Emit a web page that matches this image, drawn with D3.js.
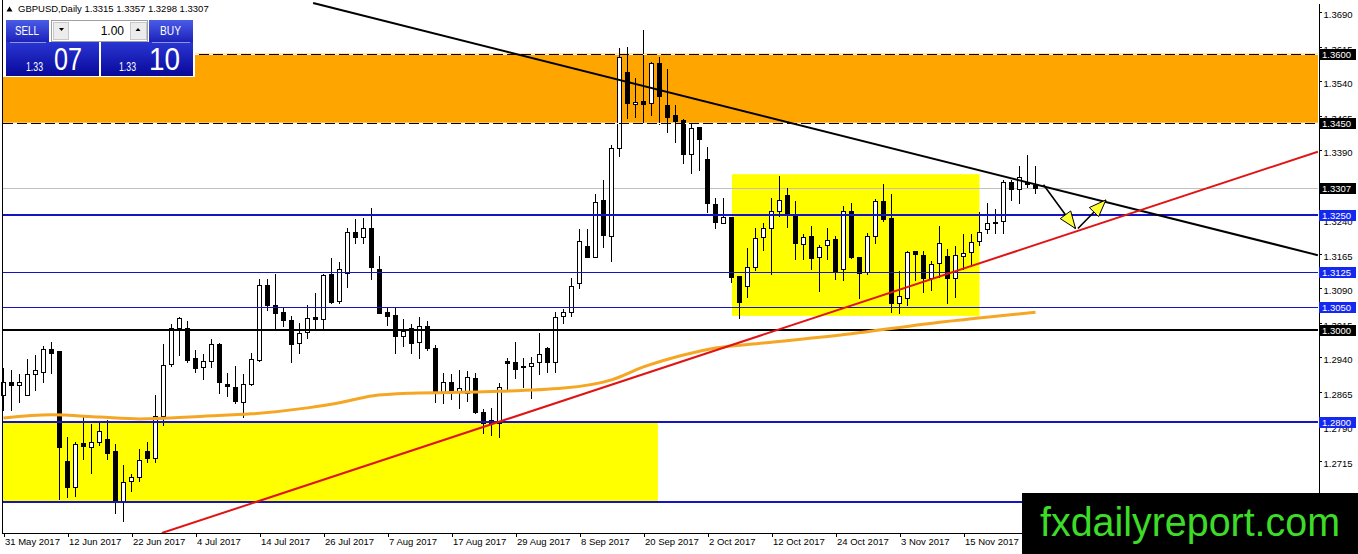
<!DOCTYPE html>
<html lang="en">
<head>
<meta charset="utf-8" />
<title>GBPUSD Daily</title>
<script src="https://cdn.jsdelivr.net/npm/d3@7"></script>
<style>
body { margin:0; background:#fff; }
svg { display:block; font-family:"Liberation Sans", Arial, sans-serif; }
</style>
</head>
<body>
<svg id="chart" width="1358" height="554"></svg>
<script>
// daily candles, 31 May 2017 .. 28 Nov 2017 (bar 0 = 31 May)
var opens = [1.2858,1.2886,1.2879,1.2858,1.2903,1.2909,1.2957,1.2954,1.2715,1.2657,
  1.2753,1.2746,1.2755,1.2762,1.2736,1.2625,1.2670,1.2679,1.2736,1.2720,
  1.2813,1.2925,1.3004,1.3003,1.2938,1.2918,1.2931,1.2969,1.2882,1.2876,
  1.2843,1.2881,1.2934,1.3097,1.3053,1.3038,1.3021,1.2970,1.2994,1.3028,
  1.3023,1.3121,1.3063,1.3124,1.3212,1.3201,1.3220,1.3133,1.3038,1.3032,
  1.2987,1.3003,1.2974,1.3007,1.2961,1.2865,1.2887,1.2865,1.2862,1.2896,
  1.2820,1.2798,1.2798,1.2933,1.2930,1.2921,1.2920,1.2929,1.2960,1.2929,
  1.3030,1.3039,1.3101,1.3183,1.3159,1.3282,1.3204,1.3394,1.3560,1.3490,
  1.3497,1.3492,1.3579,1.3488,1.3466,1.3456,1.3381,1.3440,1.3370,1.3273,
  1.3233,1.3244,1.3117,1.3095,1.3137,1.3201,1.3220,1.3259,1.3293,1.3248,
  1.3186,1.3204,1.3157,1.3184,1.3197,1.3131,1.3259,1.3157,1.3126,1.3204,
  1.3280,1.3242,1.3057,1.3068,1.3171,1.3162,1.3112,1.3144,1.3160,1.3112,
  1.3160,1.3168,1.3192,1.3218,1.3234,1.3236,1.3320,1.3306,1.3320,1.3315];
var highs = [1.2919,1.2914,1.2905,1.2938,1.2947,1.2967,1.2975,1.2956,1.2769,1.2757,
  1.2816,1.2797,1.2804,1.2805,1.2753,1.2707,1.2688,1.2743,1.2757,1.2860,
  1.2972,1.3014,1.3030,1.3021,1.2957,1.2949,1.2983,1.2973,1.2907,1.2923,
  1.2905,1.2952,1.3112,1.3112,1.3123,1.3050,1.3032,1.3017,1.3056,1.3083,
  1.3123,1.3157,1.3150,1.3224,1.3242,1.3246,1.3267,1.3162,1.3050,1.3050,
  1.3025,1.3014,1.3030,1.3021,1.2969,1.2907,1.2905,1.2914,1.2912,1.2909,
  1.2829,1.2833,1.2887,1.2941,1.2976,1.2941,1.2943,1.2994,1.2965,1.3041,
  1.3047,1.3114,1.3220,1.3220,1.3297,1.3327,1.3403,1.3615,1.3617,1.3549,
  1.3653,1.3585,1.3596,1.3568,1.3491,1.3460,1.3449,1.3443,1.3399,1.3289,
  1.3289,1.3246,1.3119,1.3180,1.3223,1.3235,1.3288,1.3336,1.3311,1.3283,
  1.3211,1.3228,1.3186,1.3224,1.3206,1.3271,1.3278,1.3160,1.3213,1.3286,
  1.3318,1.3298,1.3130,1.3173,1.3173,1.3173,1.3152,1.3228,1.3177,1.3184,
  1.3210,1.3210,1.3257,1.3278,1.3264,1.3327,1.3327,1.3358,1.3382,1.3357];
var lows = [1.2825,1.2825,1.2843,1.2857,1.2869,1.2886,1.2905,1.2633,1.2636,1.2639,
  1.2719,1.2688,1.2749,1.2718,1.2601,1.2585,1.2650,1.2672,1.2713,1.2713,
  1.2793,1.2920,1.2945,1.2930,1.2909,1.2892,1.2918,1.2863,1.2856,1.2841,
  1.2811,1.2879,1.2933,1.3043,1.3001,1.3007,1.2930,1.2950,1.2983,1.3003,
  1.2999,1.3059,1.3057,1.3093,1.3188,1.3189,1.3110,1.3036,1.3010,1.2950,
  1.2965,1.2949,1.2938,1.2956,1.2843,1.2840,1.2849,1.2829,1.2846,1.2818,
  1.2775,1.2771,1.2767,1.2869,1.2894,1.2876,1.2851,1.2903,1.2909,1.2907,
  1.3015,1.3030,1.3091,1.3157,1.3157,1.3180,1.3150,1.3378,1.3460,1.3463,
  1.3450,1.3467,1.3447,1.3429,1.3407,1.3362,1.3340,1.3347,1.3255,1.3220,
  1.3231,1.3104,1.3025,1.3072,1.3130,1.3173,1.3121,1.3247,1.3224,1.3153,
  1.3153,1.3131,1.3085,1.3153,1.3110,1.3107,1.3155,1.3068,1.3121,1.3189,
  1.3237,1.3039,1.3037,1.3054,1.3108,1.3083,1.3086,1.3115,1.3057,1.3072,
  1.3133,1.3139,1.3184,1.3210,1.3210,1.3210,1.3282,1.3276,1.3310,1.3298];
var closes = [1.2887,1.2879,1.2886,1.2903,1.2912,1.2957,1.2950,1.2744,1.2657,1.2751,
  1.2748,1.2755,1.2780,1.2733,1.2625,1.2668,1.2679,1.2717,1.2720,1.2813,
  1.2923,1.3004,1.3025,1.2934,1.2916,1.2931,1.2968,1.2887,1.2878,1.2845,
  1.2882,1.2936,1.3097,1.3054,1.3037,1.3020,1.2969,1.2992,1.3025,1.3023,
  1.3118,1.3061,1.3133,1.3212,1.3201,1.3220,1.3136,1.3037,1.3030,1.2987,
  1.2997,1.2972,1.3007,1.2961,1.2865,1.2887,1.2865,1.2873,1.2897,1.2820,
  1.2798,1.2804,1.2876,1.2928,1.2915,1.2918,1.2927,1.2947,1.2930,1.3028,
  1.3039,1.3096,1.3193,1.3159,1.3278,1.3206,1.3394,1.3592,1.3492,1.3495,
  1.3490,1.3579,1.3507,1.3463,1.3454,1.3383,1.3438,1.3414,1.3275,1.3235,
  1.3244,1.3115,1.3061,1.3137,1.3199,1.3220,1.3259,1.3283,1.3249,1.3188,
  1.3201,1.3155,1.3180,1.3195,1.3128,1.3259,1.3157,1.3124,1.3204,1.3280,
  1.3241,1.3057,1.3073,1.3168,1.3165,1.3112,1.3142,1.3188,1.3112,1.3162,
  1.3167,1.3190,1.3212,1.3231,1.3231,1.3320,1.3305,1.3333,1.3316,1.3307];

var dateBars = [0,8,16,24,32,40,48,56,64,72,80,88,96,104,112,120];
var dateLabels = ["31 May 2017","12 Jun 2017","22 Jun 2017","4 Jul 2017","14 Jul 2017",
  "26 Jul 2017","7 Aug 2017","17 Aug 2017","29 Aug 2017","8 Sep 2017","20 Sep 2017",
  "2 Oct 2017","12 Oct 2017","24 Oct 2017","3 Nov 2017","15 Nov 2017"];
var priceTicks = [1.3690,1.3615,1.3540,1.3465,1.3390,1.3315,1.3240,1.3165,
  1.3090,1.3015,1.2940,1.2865,1.2790,1.2715,1.2640];

// moving average, read at some bars
var maBars = [0,6,12,17,25,31,38,42,46,51,60,70,76,80,85,89,95,106,115,129];
var maValues = [1.2808,1.2815,1.2810,1.2806,1.2812,1.2817,1.2830,1.2841,1.2856,1.2862,
  1.2865,1.2873,1.2891,1.2919,1.2945,1.2960,1.2971,1.2991,1.3012,1.3038];

// drawn objects
var orangeZone = [1.3450, 1.3600];
var orangeZoneBars = [-0.06, 164.4];
var yellowZoneBars = [[-0.06, 81.8], [91.05, 122.0]];
var yellowZonePrices = [[1.2625, 1.2800], [1.3030, 1.3338]];
var dashedLevels = [1.3600, 1.3450];
var currentPrice = 1.3307;
var thickBlueLevels = [1.3250, 1.2800, 1.2625];
var thinBlueLevels = [1.3125, 1.3050];
var blackLevels = [1.3000];
var blackTags = [1.3600, 1.3450, 1.3307, 1.3000];
var blueTags = [1.3250, 1.3125, 1.3050, 1.2800];
var downTrendBars = [38.7, 164.3], downTrendPrices = [1.3710, 1.3162];
var upTrendBars = [19.8, 164.3], upTrendPrices = [1.2558, 1.3387];
var arrowBars = [[130, 134], [134.3, 137.8]];
var arrowPrices = [[1.3315, 1.3220], [1.3220, 1.3282]];

var svg = d3.select("#chart");
var x = d3.scaleLinear().domain([0, 8]).range([3.5, 67.5]);
var y = d3.scaleLinear().domain([1.2558, 1.37102]).range([533, 3]);
function py(p) { return Math.round(y(p)) + 0.5; }

var defs = svg.append("defs");
defs.append("clipPath").attr("id","plotclip").append("rect")
  .attr("x",0).attr("y",0).attr("width",1318).attr("height",533);
var g1 = defs.append("linearGradient").attr("id","btn").attr("x1",0).attr("y1",0).attr("x2",0).attr("y2",1);
g1.append("stop").attr("offset","0%").attr("stop-color","#4a5ce8");
g1.append("stop").attr("offset","100%").attr("stop-color","#1c22b8");
var g2 = defs.append("linearGradient").attr("id","pxbox").attr("x1",0).attr("y1",0).attr("x2",0).attr("y2",1);
g2.append("stop").attr("offset","0%").attr("stop-color","#2a36d2");
g2.append("stop").attr("offset","100%").attr("stop-color","#08089a");

var plot = svg.append("g").attr("clip-path","url(#plotclip)");

// zones (background)
plot.append("rect")
  .attr("x", x(orangeZoneBars[0])).attr("width", x(orangeZoneBars[1]) - x(orangeZoneBars[0]))
  .attr("y", y(orangeZone[1])).attr("height", y(orangeZone[0]) - y(orangeZone[1]))
  .attr("fill","#ffa500");
plot.selectAll("rect.yz").data(yellowZoneBars).enter().append("rect").attr("class","yz")
  .attr("x", function(d){ return x(d[0]); })
  .attr("width", function(d){ return x(d[1]) - x(d[0]); })
  .attr("y", function(d,i){ return y(yellowZonePrices[i][1]); })
  .attr("height", function(d,i){ return y(yellowZonePrices[i][0]) - y(yellowZonePrices[i][1]); })
  .attr("fill","#ffff00");

// current price line
plot.append("line").attr("x1",3).attr("x2",1318)
  .attr("y1", py(currentPrice)).attr("y2", py(currentPrice))
  .attr("stroke","#c0c0c0").attr("shape-rendering","crispEdges");

// candles
var bars = opens.map(function(o,i){ return {i:i, o:o, h:highs[i], l:lows[i], c:closes[i]}; });
var cg = plot.append("g").attr("shape-rendering","crispEdges");
cg.selectAll("line").data(bars).enter().append("line")
  .attr("x1", function(d){ return x(d.i); }).attr("x2", function(d){ return x(d.i); })
  .attr("y1", function(d){ return py(d.h); }).attr("y2", function(d){ return py(d.l); })
  .attr("stroke","#000");
cg.selectAll("rect").data(bars).enter().append("rect")
  .attr("x", function(d){ return x(d.i) - 2; }).attr("width", 4)
  .attr("y", function(d){ return py(Math.max(d.o, d.c)); })
  .attr("height", function(d){ return Math.max(py(Math.min(d.o, d.c)) - py(Math.max(d.o, d.c)), 1); })
  .attr("fill", function(d){ return d.c >= d.o ? "#fff" : "#000"; })
  .attr("stroke","#000");

// horizontal levels
var lv = plot.append("g").attr("shape-rendering","crispEdges");
dashedLevels.forEach(function(p){
  lv.append("line").attr("x1",3).attr("x2",1318).attr("y1",py(p)).attr("y2",py(p)).attr("stroke","#fff");
  lv.append("line").attr("x1",3).attr("x2",1318).attr("y1",py(p)).attr("y2",py(p))
    .attr("stroke","#000").attr("stroke-dasharray","10,4");
});
thinBlueLevels.forEach(function(p){
  lv.append("line").attr("x1",3).attr("x2",1318).attr("y1",py(p)).attr("y2",py(p)).attr("stroke","#1414c0");
});
thickBlueLevels.forEach(function(p){
  lv.append("line").attr("x1",3).attr("x2",1318).attr("y1",Math.round(y(p))).attr("y2",Math.round(y(p)))
    .attr("stroke","#1414c0").attr("stroke-width",2);
});
blackLevels.forEach(function(p){
  lv.append("line").attr("x1",3).attr("x2",1318).attr("y1",Math.round(y(p))).attr("y2",Math.round(y(p)))
    .attr("stroke","#000").attr("stroke-width",2);
});

// moving average
plot.append("path")
  .datum(maBars.map(function(b,i){ return [b, maValues[i]]; }))
  .attr("d", d3.line().x(function(d){ return x(d[0]); }).y(function(d){ return y(d[1]); }).curve(d3.curveMonotoneX))
  .attr("fill","none").attr("stroke","#f5a623").attr("stroke-width",3);

// trend lines
plot.append("line")
  .attr("x1", x(downTrendBars[0])).attr("y1", y(downTrendPrices[0]))
  .attr("x2", x(downTrendBars[1])).attr("y2", y(downTrendPrices[1]))
  .attr("stroke","#000").attr("stroke-width",2);
plot.append("line")
  .attr("x1", x(upTrendBars[0])).attr("y1", y(upTrendPrices[0]))
  .attr("x2", x(upTrendBars[1])).attr("y2", y(upTrendPrices[1]))
  .attr("stroke","#e01414").attr("stroke-width",2);

// arrows
arrowBars.forEach(function(b,i){
  var x1 = x(b[0]), y1 = y(arrowPrices[i][0]), x2 = x(b[1]), y2 = y(arrowPrices[i][1]);
  plot.append("line").attr("x1",x1).attr("y1",y1).attr("x2",x2).attr("y2",y2)
    .attr("stroke","#000").attr("stroke-width",1.6);
  var a = Math.atan2(y2 - y1, x2 - x1), len = 17, hw = 6.5;
  var bx = x2 - len*Math.cos(a), by = y2 - len*Math.sin(a);
  var pts = [[x2,y2],[bx - hw*Math.sin(a), by + hw*Math.cos(a)],[bx + hw*Math.sin(a), by - hw*Math.cos(a)]];
  plot.append("path").attr("d","M" + pts.join("L") + "Z")
    .attr("fill","#ffff33").attr("stroke","#000").attr("stroke-width",1);
});

// frame
var fr = svg.append("g").attr("shape-rendering","crispEdges");
fr.append("line").attr("x1",2.5).attr("x2",2.5).attr("y1",0).attr("y2",533).attr("stroke","#000");
fr.append("line").attr("x1",2).attr("x2",1318).attr("y1",533.5).attr("y2",533.5).attr("stroke","#000");

// right price axis
var ra = svg.append("g").attr("transform","translate(1318.5,0)")
  .call(d3.axisRight(y).tickValues(priceTicks).tickSize(3).tickSizeOuter(0).tickPadding(2)
    .tickFormat(d3.format(".4f")));
ra.attr("shape-rendering","crispEdges");
ra.select(".domain").attr("stroke","#000");
ra.selectAll(".tick line").attr("stroke","#000");
ra.selectAll(".tick text").attr("font-size","9.5px").attr("fill","#000")
  .attr("font-family","Liberation Sans, Arial, sans-serif").attr("dy","0.55em");

// level tags on the axis
function tags(list, bg) {
  list.forEach(function(p){
    var cy = Math.round(y(p));
    svg.append("rect").attr("x",1319).attr("y",cy - 5.5).attr("width",37).attr("height",11)
      .attr("fill",bg).attr("shape-rendering","crispEdges");
    svg.append("text").attr("x",1322).attr("y",cy + 4).attr("font-size","9.5px")
      .attr("fill","#fff").text(p.toFixed(4));
  });
}
tags(blackTags, "#000");
tags(blueTags, "#1428f0");

// bottom time axis
var ba = svg.append("g").attr("transform","translate(0,533)")
  .call(d3.axisBottom(x).tickValues(dateBars).tickSize(4).tickSizeOuter(0)
    .tickFormat(function(d,i){ return dateLabels[i]; }));
ba.select(".domain").remove();
ba.selectAll(".tick line").attr("stroke","#000").attr("shape-rendering","crispEdges");
ba.selectAll(".tick text").attr("text-anchor","start").attr("x",1).attr("y",5)
  .attr("font-size","9.5px").attr("fill","#000").attr("font-family","Liberation Sans, Arial, sans-serif");

// title
svg.append("path").attr("d","M6.5,11.5L9.5,6.5L12.5,11.5Z").attr("fill","#000");
svg.append("text").attr("x",18).attr("y",12).attr("font-size","9.5px").attr("fill","#000")
  .text("GBPUSD,Daily  1.3315 1.3357 1.3298 1.3307");

// one click trading panel
var tp = svg.append("g");
tp.append("rect").attr("x",3).attr("y",17).attr("width",192).attr("height",60).attr("fill","#fff");
tp.append("rect").attr("x",6).attr("y",20).attr("width",43).attr("height",22).attr("fill","url(#btn)");
tp.append("rect").attr("x",149).attr("y",20).attr("width",44).attr("height",22).attr("fill","url(#btn)");
tp.append("rect").attr("x",6).attr("y",42).attr("width",93).attr("height",34).attr("fill","url(#pxbox)");
tp.append("rect").attr("x",101).attr("y",42).attr("width",92).attr("height",34).attr("fill","url(#pxbox)");
tp.append("line").attr("x1",10).attr("x2",46).attr("y1",42.5).attr("y2",42.5).attr("stroke","#8c94e8");
tp.append("line").attr("x1",152).attr("x2",190).attr("y1",42.5).attr("y2",42.5).attr("stroke","#8c94e8");
tp.append("rect").attr("x",51.5).attr("y",20.5).attr("width",96).attr("height",21)
  .attr("fill","#fff").attr("stroke","#a0a0a0");
tp.append("rect").attr("x",53.5).attr("y",22.5).attr("width",15).attr("height",17)
  .attr("fill","#ececec").attr("stroke","#c8c8c8");
tp.append("rect").attr("x",130.5).attr("y",22.5).attr("width",16).attr("height",17)
  .attr("fill","#ececec").attr("stroke","#c8c8c8");
tp.append("path").attr("d","M59,28L64,28L61.5,31Z").attr("fill","#000");
tp.append("path").attr("d","M135.5,31L140.5,31L138,28Z").attr("fill","#000");
tp.append("text").attr("x",124).attr("y",35).attr("text-anchor","end").attr("font-size","12px")
  .attr("fill","#000").text("1.00");
tp.append("text").attr("x",15).attr("y",35).attr("font-size","12px").attr("fill","#fff")
  .attr("textLength",24).attr("lengthAdjust","spacingAndGlyphs").text("SELL");
tp.append("text").attr("x",160).attr("y",35).attr("font-size","12px").attr("fill","#fff")
  .attr("textLength",21).attr("lengthAdjust","spacingAndGlyphs").text("BUY");
tp.append("text").attr("x",26).attr("y",71).attr("font-size","12px").attr("fill","#fff")
  .attr("textLength",17).attr("lengthAdjust","spacingAndGlyphs").text("1.33");
tp.append("text").attr("x",54).attr("y",70).attr("font-size","31px").attr("fill","#fff")
  .attr("textLength",28).attr("lengthAdjust","spacingAndGlyphs").text("07");
tp.append("text").attr("x",119).attr("y",71).attr("font-size","12px").attr("fill","#fff")
  .attr("textLength",17).attr("lengthAdjust","spacingAndGlyphs").text("1.33");
tp.append("text").attr("x",149).attr("y",70).attr("font-size","31px").attr("fill","#fff")
  .attr("textLength",31).attr("lengthAdjust","spacingAndGlyphs").text("10");

// watermark
svg.append("rect").attr("x",1022).attr("y",493).attr("width",336).attr("height",61).attr("fill","#000");
svg.append("text").attr("x",1040).attr("y",536).attr("font-size","40px").attr("fill","#3ddc28")
  .attr("textLength",300).attr("lengthAdjust","spacingAndGlyphs").text("fxdailyreport.com");
</script>
</body>
</html>
